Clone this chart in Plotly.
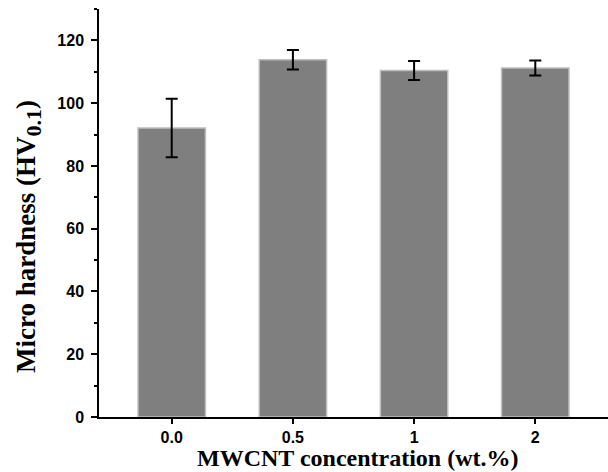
import plotly.graph_objects as go

categories = ["0.0", "0.5", "1", "2"]
hardness = [92.1, 113.8, 110.4, 111.2]
errors = [9.3, 3.1, 3.05, 2.4]
y_ticks = [0, 20, 40, 60, 80, 100, 120]

xtitle_font = dict(family="Liberation Serif", size=24, color="black", weight="bold")
ytitle_font = dict(family="Liberation Serif", size=27, color="black", weight="bold")
tick_font = dict(family="Liberation Sans", size=16, color="black", weight="bold")

fig = go.Figure()
fig.add_trace(go.Bar(
    x=categories, y=hardness,
    width=0.556,
    marker=dict(color="#7f7f7f", line=dict(color="#bdbdbd", width=1.5)),
    error_y=dict(type="data", array=errors, visible=True,
                 color="black", thickness=2, width=6),
))

fig.update_layout(
    width=608, height=472,
    margin=dict(l=99, r=0, t=9, b=55),
    paper_bgcolor="white", plot_bgcolor="white",
    showlegend=False,
    xaxis=dict(
        type="category",
        range=[-0.6, 3.6],
        showline=True, linecolor="black", linewidth=1.5,
        ticks="outside", ticklen=5, tickwidth=1.5, tickcolor="black",
        tickfont=tick_font,
        showgrid=False, zeroline=False,
    ),
    yaxis=dict(
        range=[0, 130],
        tickvals=y_ticks,
        showline=True, linecolor="black", linewidth=1.5,
        ticks="outside", ticklen=6, tickwidth=1.5, tickcolor="black",
        minor=dict(dtick=10, tick0=0, ticks="outside", ticklen=3, tickwidth=1.5, tickcolor="black"),
        tickfont=tick_font,
        ticklabelstandoff=4,
        showgrid=False, zeroline=False,
    ),
    annotations=[
        dict(
            text="MWCNT concentration (wt.%)",
            xref="x", yref="paper", x=1.5, xshift=4, y=0, yshift=-41,
            xanchor="center", yanchor="middle", showarrow=False,
            font=xtitle_font,
        ),
        dict(
            text="Micro hardness (HV<sub><span style='font-size:22px'>0.1</span></sub>)",
            xref="paper", yref="paper", x=0, xshift=-71, y=0.441,
            xanchor="center", yanchor="middle", textangle=-90, showarrow=False,
            font=ytitle_font,
        ),
    ],
)

fig.write_html("out.html", config={"displayModeBar": False})

with open("out.html", "r", encoding="utf-8") as f:
    html = f.read()
html = html.replace("<head>", "<head><style>html,body{margin:0;padding:0;overflow:hidden;}</style>", 1)
with open("out.html", "w", encoding="utf-8") as f:
    f.write(html)
